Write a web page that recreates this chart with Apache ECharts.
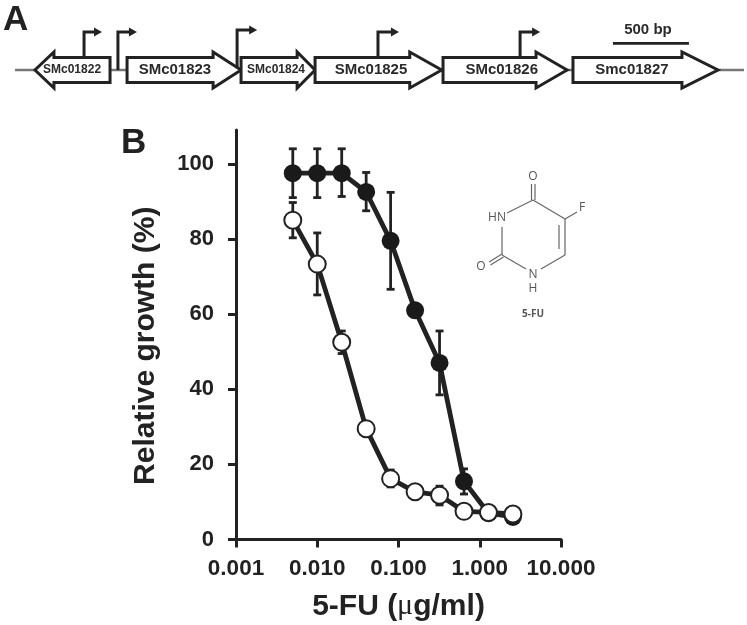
<!DOCTYPE html>
<html><head><meta charset="utf-8">
<style>html,body{margin:0;padding:0;background:#fff}#c{width:747px;height:625px}</style>
<script src="https://cdn.jsdelivr.net/npm/echarts@6/dist/echarts.min.js"></script></head>
<body><div id="c"></div>
<script>
// Panel B data
const doses = [0.005,0.01,0.02,0.04,0.08,0.16,0.32,0.64,1.28,2.56];
const wildType = [97.5,97.5,97.5,92.5,79.5,61,47,15.5,7,6];
const wildHigh = [104,104,104,97.7,92.4,null,55.5,18.8,null,null];
const wildLow  = [91,91,91.3,87.5,66.6,null,38.5,12.1,null,null];
const mutant = [85,73.3,52.5,29.5,16.2,12.7,11.8,7.5,7.2,6.8];
const mutantHigh = [89.7,81.6,55.5,null,18.5,null,14.2,null,null,null];
const mutantLow  = [80.3,65.1,49.5,null,14,null,9.2,null,null,null];
const yTicks = [0,20,40,60,80,100];
// Panel A data (bp along the locus)
const geneNames = ['SMc01822','SMc01823','SMc01824','SMc01825','SMc01826','Smc01827'];
const geneStart = [724,836,1586,2073,2915,3770];
const geneEnd   = [230,1586,2073,2906,3731,4724];
const geneHead  = [125,184,118,210,204,237];
const geneLabel = [474,1151,1816,2441,3301,4158];
const promoters = [553,776,1560,2487,3422];
const promoterLen = [118,125,132,138,132];
const locusEnds = [99,4895];
const scaleBar = [4033,4533];
const BP_MAX = 4915;

const INK = '#222';
function errorRender(hi, lo){
  return function(params, api){
    const i = params.dataIndex;
    if (hi[i] == null) return;
    const x = doses[i];
    const a = api.coord([x, hi[i]]), b = api.coord([x, lo[i]]);
    const st = {stroke: INK, lineWidth: 2.8, fill: null};
    const c = 4;
    return {type:'group', children:[
      {type:'line', shape:{x1:a[0],y1:a[1],x2:b[0],y2:b[1]}, style:st},
      {type:'line', shape:{x1:a[0]-c,y1:a[1],x2:a[0]+c,y2:a[1]}, style:st},
      {type:'line', shape:{x1:b[0]-c,y1:b[1],x2:b[0]+c,y2:b[1]}, style:st}
    ]};
  };
}
function geneRender(params, api){
  const i = params.dataIndex;
  const s = geneStart[i], e = geneEnd[i], dir = e > s ? 1 : -1;
  const base = e - dir*geneHead[i];
  const P = (x,y)=>api.coord([x,y]);
  const pts = [P(s,-.62),P(base,-.62),P(base,-.9),P(e,0),P(base,.9),P(base,.62),P(s,.62)];
  const wide = Math.abs(e-s) > 600;
  const t = P(geneLabel[i],0);
  return {type:'group', children:[
    {type:'polygon', shape:{points:pts}, style:{fill:'#fff',stroke:INK,lineWidth:3,lineJoin:'miter'}},
    {type:'text', style:{x:t[0],y:t[1],text:geneNames[i],align:'center',verticalAlign:'middle',
      font:'bold '+(wide?15:12)+'px "Liberation Sans"',fill:'#2a2a2a'}}
  ]};
}
function promoterRender(params, api){
  const i = params.dataIndex, x = promoters[i];
  const inner = i===1||i===2;
  const base = api.coord([x, inner?0:.62]), top = api.coord([x, i===2?2:1.9]);
  const end = api.coord([x+promoterLen[i], 0])[0];
  const y = top[1];
  return {type:'group', children:[
    {type:'polyline', shape:{points:[[base[0],base[1]],[base[0],y],[end-6,y]]}, style:{stroke:INK,lineWidth:3,fill:null}},
    {type:'polygon', shape:{points:[[end-8,y-4.5],[end,y],[end-8,y+4.5]]}, style:{fill:INK}}
  ]};
}
function scaleRender(params, api){
  const a = api.coord([scaleBar[0],1.33]), b = api.coord([scaleBar[1],1.33]);
  return {type:'group', children:[
    {type:'line', shape:{x1:a[0],y1:a[1],x2:b[0],y2:b[1]}, style:{stroke:INK,lineWidth:2.8}},
    {type:'text', style:{x:(a[0]+b[0])/2-3,y:a[1]-14,text:'500 bp',align:'center',verticalAlign:'middle',font:'bold 15px "Liberation Sans"',fill:'#2a2a2a'}}
  ]};
}
const mol = {stroke:'#666',lineWidth:1.2};
const seg = (x1,y1,x2,y2)=>({type:'line',silent:true,shape:{x1,y1,x2,y2},style:mol});
const lab = (x,y,t,f)=>({type:'text',silent:true,x,y,style:{text:t,align:'center',verticalAlign:'middle',font:f||'12px "Open Sans"',fill:'#555'}});
const axisFont = {fontFamily:'Liberation Sans',fontWeight:'bold',fontSize:22.5,color:INK};
const chart = echarts.init(document.getElementById('c'),null,{renderer:'canvas'});
chart.setOption({
  animation:false, backgroundColor:'#fff',
  grid:[
    {left:236,right:186,top:130,bottom:85.5,outerBoundsMode:'none'},
    {left:0,right:0,top:20,height:100,outerBoundsMode:'none'}
  ],
  xAxis:[
    {type:'log',logBase:10,min:0.001,max:10,gridIndex:0,
     axisLine:{lineStyle:{color:INK,width:3}},
     axisTick:{length:8,inside:false,lineStyle:{color:INK,width:3}},
     minorTick:{show:false},splitLine:{show:false},
     axisLabel:Object.assign({margin:18,showMinLabel:true,showMaxLabel:true,formatter:v=>Number(v).toFixed(3)},axisFont),
     name:'{b|5-FU (}{m|μ}{b|g/ml)}',nameLocation:'middle',nameGap:52,
     nameTextStyle:{rich:{b:{fontFamily:'Liberation Sans',fontWeight:'bold',fontSize:30,color:INK},m:{fontFamily:'Liberation Serif',fontSize:30,color:INK}}}},
    {type:'value',min:0,max:BP_MAX,gridIndex:1,show:false}
  ],
  yAxis:[
    {type:'value',min:0,max:109,gridIndex:0,
     axisLine:{show:true,lineStyle:{color:INK,width:3}},
     axisTick:{show:true,length:8,lineStyle:{color:INK,width:3},customValues:yTicks},
     splitLine:{show:false},
     axisLabel:Object.assign({margin:22,customValues:yTicks},axisFont,{fontSize:22}),
     name:'Relative growth (%)',nameLocation:'middle',nameGap:75,
     nameTextStyle:{fontFamily:'Liberation Sans',fontWeight:'bold',fontSize:30,color:INK,padding:[0,22,0,0]}},
    {type:'value',min:-2.5,max:2.5,gridIndex:1,show:false}
  ],
  series:[
    {type:'line',xAxisIndex:1,yAxisIndex:1,data:[[locusEnds[0],0],[locusEnds[1],0]],symbol:'none',silent:true,z:1,lineStyle:{color:'#777',width:2.5}},
    {type:'custom',xAxisIndex:1,yAxisIndex:1,data:promoters,renderItem:promoterRender,silent:true,z:2,encode:{x:0}},
    {type:'custom',xAxisIndex:1,yAxisIndex:1,data:geneNames.map((n,i)=>[geneStart[i],geneEnd[i]]),renderItem:geneRender,silent:true,z:3,encode:{x:[0,1]}},
    {type:'custom',xAxisIndex:1,yAxisIndex:1,data:[scaleBar],renderItem:scaleRender,silent:true,z:3,encode:{x:[0,1]}},
    {type:'custom',data:doses.map((d,i)=>[d,wildHigh[i]]),renderItem:errorRender(wildHigh,wildLow),silent:true,z:4,encode:{x:0,y:1}},
    {type:'line',data:doses.map((d,i)=>[d,wildType[i]]),symbol:'circle',symbolSize:18,z:5,silent:true,
     lineStyle:{color:INK,width:4.8},itemStyle:{color:'#1a1a1a'}},
    {type:'custom',data:doses.map((d,i)=>[d,mutantHigh[i]]),renderItem:errorRender(mutantHigh,mutantLow),silent:true,z:6,encode:{x:0,y:1}},
    {type:'line',data:doses.map((d,i)=>[d,mutant[i]]),symbol:'circle',symbolSize:17,z:7,silent:true,
     lineStyle:{color:INK,width:4.8},itemStyle:{color:'#fff',borderColor:INK,borderWidth:2}}
  ],
  graphic:[
    {type:'text',silent:true,x:3,y:3,style:{text:'A',font:'bold 35px "Liberation Sans"',fill:INK}},
    {type:'text',silent:true,x:121,y:126,style:{text:'B',font:'bold 35px "Liberation Sans"',fill:INK}},
    seg(533,200,565,219),seg(565,219,565,255),seg(565,255,541,269),seg(526,269,502,255),
    seg(502,255,502,227),seg(507,213,533,200),seg(559,225,559,249),
    seg(531.5,200,531.5,184),seg(535,200,535,184),seg(565,219,577,212),
    seg(502,254,489,262),seg(503.5,257,490.5,265),
    lab(533,177,'O'),lab(582,208,'F'),lab(497,218,'HN'),lab(481,267,'O'),lab(533,275,'N'),lab(533,289,'H'),
    lab(533,314,'5-FU','bold 10px "Open Sans"')
  ]
});
</script></body></html>
